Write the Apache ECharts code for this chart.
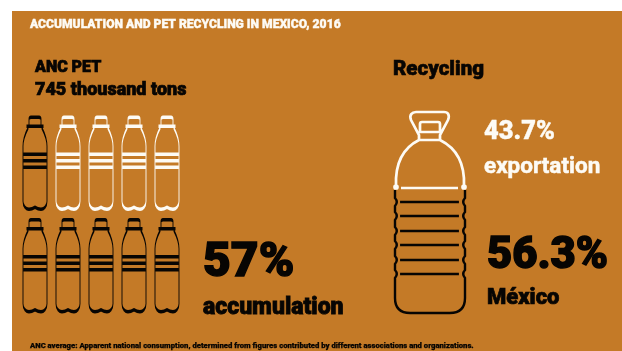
<!DOCTYPE html>
<html>
<head>
<meta charset="utf-8">
<style>
  html, body { margin: 0; padding: 0; background: #fff; }
  #chart { width: 622px; height: 351px; }
</style>
<script src="https://cdn.jsdelivr.net/npm/echarts@6/dist/echarts.min.js"></script>
</head>
<body>
<div id="chart"></div>
<script>
// Values shown on the chart
const columns = ['1', '2', '3', '4', '5'];
const rows = ['lower', 'upper'];
const accumulatedPerRow = [5, 1];
const exportationShare = 43.7;
const mexicoShare = 56.3;
const accumulationShare = 57;

// Colours
const panel = '#c47a27';
const ink = '#070503';
const white = '#fdfbf5';

// Bottle outlines
const smallBottle = 'path://M6 9V3Q6 1 8 1H16Q18 1 18 3V9M3.5 10H20.5M5 10V12C2 18 0 24 0 30V85C0 90 3 93 6 93Q9 93 12 91Q15 93 18 93C21 93 24 90 24 85V30C24 24 22 18 19 12V10M0.5 38H23.5M0.5 44.5H23.5M0.5 51H23.5';
const jugTop = 'M396 186C395 162 403 148 419 140V135L411 120C409 115 412 112 416 112H444C448 112 450 115 448 120L440 135V140C456 148 465 162 464 186M420 132V124Q420 122 422 122H438Q440 122 440 124V132ZM419 140H440M401 188H458M394.5 187A1.5 1.5 0 1 0 397.5 187A1.5 1.5 0 1 0 394.5 187M462.5 187A1.5 1.5 0 1 0 465.5 187A1.5 1.5 0 1 0 462.5 187';
const jugBottom = 'M396 190V198Q399.5 202 396 206V212Q399.5 216 396 220V227Q399.5 231 396 235V241Q399.5 245 396 249V256Q399.5 260 396 264V270Q399.5 274 396 278V298Q396 313 411 313H450Q465 313 465 298V278Q461.5 274 465 270V264Q461.5 260 465 256V249Q461.5 245 465 241V235Q461.5 231 465 227V220Q461.5 216 465 212V206Q461.5 202 465 198V190M401 202H459M401 216H459M401 231H459M401 245H459M401 260H459M401 274H459';

// Split the bottle grid into accumulated (dark) and recycled (light) marks
const accumulatedPoints = [];
const recycledPoints = [];
rows.forEach((row, r) => {
  columns.forEach((col, c) => {
    (c < accumulatedPerRow[r] ? accumulatedPoints : recycledPoints).push([c, r]);
  });
});

// The jug: lower section rises from the base to the México share, the upper
// section (exportation) sits on top of that split.
function renderJug(params, api) {
  const base = api.coord([0, 0]);
  const split = api.coord([0, mexicoShare]);
  const w = api.size([1, 0])[0];
  const left = base[0] - w / 2;
  const gap = 2;
  return {
    type: 'group',
    children: [
      {
        type: 'path',
        shape: { pathData: jugBottom, x: left, y: split[1] + gap, width: w, height: base[1] - split[1] - gap, layout: 'cover' },
        style: { fill: 'none', stroke: ink, lineWidth: 2.4 }
      },
      {
        type: 'path',
        shape: { pathData: jugTop, x: left - 0.5, y: split[1] - 76, width: w + 1, height: 76.5, layout: 'cover' },
        style: { fill: 'none', stroke: white, lineWidth: 2.7 }
      }
    ]
  };
}

const heavy = 'Roboto';
const label = (text, x, y, size, fill, weight, sw) => ({
  type: 'text',
  z: 10,
  style: {
    text, x, y,
    fill,
    font: `${weight} ${size}px "${heavy}"`,
    stroke: fill,
    lineWidth: sw,
    textVerticalAlign: 'middle'
  }
});

const chart = echarts.init(document.getElementById('chart'), null, { renderer: 'canvas' });
chart.setOption({
  animation: false,
  backgroundColor: '#fff',
  grid: [
    { left: 18.5, top: 112, width: 165, height: 205, show: false },
    { left: 395, top: 91, width: 70, height: 222, show: false }
  ],
  xAxis: [
    { gridIndex: 0, type: 'category', data: columns, show: false },
    { gridIndex: 1, type: 'category', data: ['Recycling'], show: false }
  ],
  yAxis: [
    { gridIndex: 0, type: 'category', data: rows, show: false },
    { gridIndex: 1, type: 'value', min: 0, max: 100, show: false }
  ],
  series: [
    {
      name: 'accumulation', type: 'scatter', xAxisIndex: 0, yAxisIndex: 0, z: 3,
      symbol: smallBottle, symbolSize: [24, 92],
      itemStyle: { color: 'none', borderColor: ink, borderWidth: 1.8, opacity: 1 },
      data: accumulatedPoints
    },
    {
      name: 'recycled', type: 'scatter', xAxisIndex: 0, yAxisIndex: 0, z: 3,
      symbol: smallBottle, symbolSize: [24, 92],
      itemStyle: { color: 'none', borderColor: white, borderWidth: 1.8, opacity: 1 },
      data: recycledPoints
    },
    {
      name: 'Recycling', type: 'custom', xAxisIndex: 1, yAxisIndex: 1, z: 3,
      renderItem: renderJug,
      encode: { x: 0, y: 1 },
      data: [[0, mexicoShare, exportationShare]]
    }
  ],
  graphic: [
    { type: 'rect', z: -10, shape: { x: 12, y: 11, width: 610, height: 340 }, style: { fill: panel } },
    label('ACCUMULATION AND PET RECYCLING IN MEXICO, 2016', 30, 25, 12.1, white, '900', 0.4),
    label('ANC PET', 35, 68, 16, ink, '900', 0.7),
    label('745 thousand tons', 35, 90, 18, ink, '900', 0.7),
    label(accumulationShare + '%', 203, 264, 48, ink, '900', 1.4),
    label('accumulation', 203, 308, 23, ink, '900', 0.8),
    label('Recycling', 393, 70, 20.5, ink, '900', 0.6),
    label(exportationShare + '%', 484, 133, 25.5, white, '900', 0.4),
    label('exportation', 484, 167, 22.5, white, '700', 0.5),
    label(mexicoShare + '%', 487, 257, 43.5, ink, '900', 1.4),
    label('México', 487, 298, 22, ink, '900', 0.7),
    label('ANC average: Apparent national consumption, determined from figures contributed by different associations and organizations.', 30, 346, 7.7, ink, '900', 0.25)
  ]
});
</script>
</body>
</html>
